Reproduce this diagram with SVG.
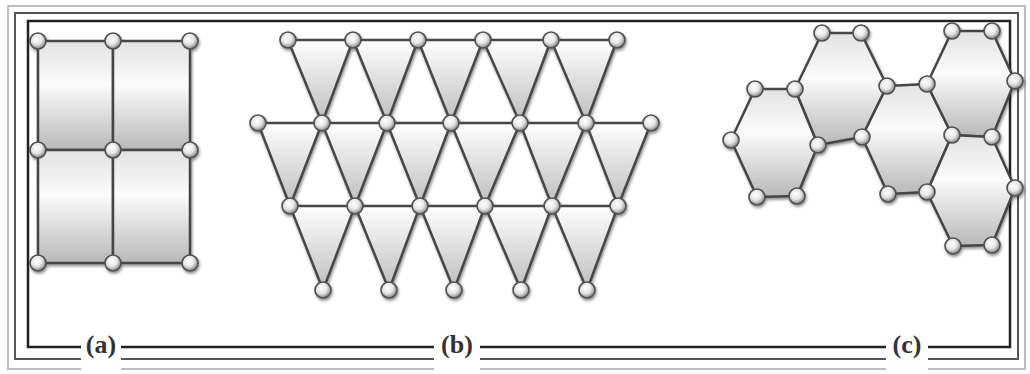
<svg xmlns="http://www.w3.org/2000/svg" width="1030" height="374" viewBox="0 0 1030 374">
<defs>
<linearGradient id="gShape" x1="0" y1="0" x2="0" y2="1">
<stop offset="0" stop-color="#e2e2e2"/>
<stop offset="0.4" stop-color="#fbfbfb"/>
<stop offset="1" stop-color="#b8b8b8"/>
</linearGradient>
<linearGradient id="gTri" x1="0" y1="0" x2="0" y2="1">
<stop offset="0" stop-color="#ffffff"/>
<stop offset="1" stop-color="#bcbcbc"/>
</linearGradient>
<radialGradient id="gNode" cx="0.42" cy="0.38" r="0.6">
<stop offset="0" stop-color="#ffffff"/>
<stop offset="0.55" stop-color="#e6e6e6"/>
<stop offset="1" stop-color="#8c8c8c"/>
</radialGradient>
<filter id="shadow" x="-10%" y="-10%" width="120%" height="120%">
<feGaussianBlur in="SourceAlpha" stdDeviation="1.6"/>
<feOffset dx="1" dy="1.5" result="b"/>
<feComponentTransfer><feFuncA type="linear" slope="0.45"/></feComponentTransfer>
<feMerge><feMergeNode/><feMergeNode in="SourceGraphic"/></feMerge>
</filter>
</defs>
<style>
.frame1{fill:none;stroke:#bdbdbd;stroke-width:2}
.frame2{fill:none;stroke:#555;stroke-width:2}
.frame3{fill:none;stroke:#222;stroke-width:2.5}
.cell{fill:url(#gShape);stroke:#444;stroke-width:2.5;stroke-linejoin:round}
.tri{fill:url(#gTri);stroke:none}
.edge{fill:none;stroke:#474747;stroke-width:2.5;stroke-linejoin:round;stroke-linecap:round}
.node{fill:url(#gNode);stroke:#505050;stroke-width:1.6}
.lbl{font-family:"Liberation Serif",serif;font-weight:bold;font-size:26px;fill:#333;text-anchor:middle}
</style>
<rect width="1030" height="374" fill="#ffffff"/>
<g id="frame">
<rect class="frame1" x="8" y="6" width="1017" height="363"/>
<rect class="frame2" x="15" y="13" width="1003" height="346"/>
<rect class="frame3" x="28" y="21" width="982" height="326"/>
<rect x="81" y="334" width="40" height="38" fill="#fff"/>
<rect x="434" y="334" width="46" height="38" fill="#fff"/>
<rect x="886" y="334" width="42" height="38" fill="#fff"/>
</g>

<g id="panel-a" filter="url(#shadow)">
<g id="a-cells">
<rect class="cell" x="38" y="41" width="75" height="109"/>
<rect class="cell" x="113" y="41" width="77" height="109"/>
<rect class="cell" x="38" y="150" width="75" height="113"/>
<rect class="cell" x="113" y="150" width="77" height="113"/>
</g>
<g id="a-nodes">
<circle class="node" cx="38" cy="41" r="8"/><circle class="node" cx="113" cy="41" r="8"/><circle class="node" cx="190" cy="41" r="8"/>
<circle class="node" cx="38" cy="150" r="8"/><circle class="node" cx="113" cy="150" r="8"/><circle class="node" cx="190" cy="150" r="8"/>
<circle class="node" cx="38" cy="263" r="8"/><circle class="node" cx="113" cy="263" r="8"/><circle class="node" cx="190" cy="263" r="8"/>
</g>
</g>

<g id="panel-b" filter="url(#shadow)">
<g id="b-faces">
<polygon class="tri" points="288,40 353,40 322,123"/>
<polygon class="tri" points="353,40 418,40 387,123"/>
<polygon class="tri" points="418,40 483,40 451,123"/>
<polygon class="tri" points="483,40 551,40 520,123"/>
<polygon class="tri" points="551,40 617,40 586,123"/>
<polygon class="tri" points="258,123 322,123 290,206"/>
<polygon class="tri" points="322,123 387,123 355,206"/>
<polygon class="tri" points="387,123 451,123 420,206"/>
<polygon class="tri" points="451,123 520,123 485,206"/>
<polygon class="tri" points="520,123 586,123 552,206"/>
<polygon class="tri" points="586,123 651,123 618,206"/>
<polygon class="tri" points="290,206 355,206 323,290"/>
<polygon class="tri" points="355,206 420,206 389,290"/>
<polygon class="tri" points="420,206 485,206 454,290"/>
<polygon class="tri" points="485,206 552,206 521,290"/>
<polygon class="tri" points="552,206 618,206 587,290"/>
</g>
<g id="b-connectors">
<polyline class="edge" points="288,40 617,40"/>
<polyline class="edge" points="258,123 651,123"/>
<polyline class="edge" points="290,206 618,206"/>
<polyline class="edge" points="288,40 322,123 353,40 387,123 418,40 451,123 483,40 520,123 551,40 586,123 617,40"/>
<polyline class="edge" points="258,123 290,206 322,123 355,206 387,123 420,206 451,123 485,206 520,123 552,206 586,123 618,206 651,123"/>
<polyline class="edge" points="290,206 323,290 355,206 389,290 420,206 454,290 485,206 521,290 552,206 587,290 618,206"/>
</g>
<g id="b-nodes">
<circle class="node" cx="288" cy="40" r="8"/><circle class="node" cx="353" cy="40" r="8"/><circle class="node" cx="418" cy="40" r="8"/><circle class="node" cx="483" cy="40" r="8"/><circle class="node" cx="551" cy="40" r="8"/><circle class="node" cx="617" cy="40" r="8"/>
<circle class="node" cx="258" cy="123" r="8"/><circle class="node" cx="322" cy="123" r="8"/><circle class="node" cx="387" cy="123" r="8"/><circle class="node" cx="451" cy="123" r="8"/><circle class="node" cx="520" cy="123" r="8"/><circle class="node" cx="586" cy="123" r="8"/><circle class="node" cx="651" cy="123" r="8"/>
<circle class="node" cx="290" cy="206" r="8"/><circle class="node" cx="355" cy="206" r="8"/><circle class="node" cx="420" cy="206" r="8"/><circle class="node" cx="485" cy="206" r="8"/><circle class="node" cx="552" cy="206" r="8"/><circle class="node" cx="618" cy="206" r="8"/>
<circle class="node" cx="323" cy="290" r="8"/><circle class="node" cx="389" cy="290" r="8"/><circle class="node" cx="454" cy="290" r="8"/><circle class="node" cx="521" cy="290" r="8"/><circle class="node" cx="587" cy="290" r="8"/>
</g>
</g>

<g id="panel-c" filter="url(#shadow)">
<g id="c-hexes">
<polygon class="cell" points="755,89 795,89 818,145 797,196 757,197 731,140"/>
<polygon class="cell" points="822,33 861,33 887,86 862,137 818,145 795,89"/>
<polygon class="cell" points="887,86 927,84 952,135 927,192 888,194 862,137"/>
<polygon class="cell" points="952,31 992,31 1015,81 992,137 952,135 927,84"/>
<polygon class="cell" points="952,135 992,137 1015,188 992,245 953,246 927,192"/>
</g>
<g id="c-nodes">
<circle class="node" cx="822" cy="33" r="8"/><circle class="node" cx="861" cy="33" r="8"/><circle class="node" cx="952" cy="31" r="8"/><circle class="node" cx="992" cy="31" r="8"/>
<circle class="node" cx="755" cy="89" r="8"/><circle class="node" cx="795" cy="89" r="8"/><circle class="node" cx="887" cy="86" r="8"/><circle class="node" cx="927" cy="84" r="8"/><circle class="node" cx="1015" cy="81" r="8"/>
<circle class="node" cx="731" cy="140" r="8"/><circle class="node" cx="818" cy="145" r="8"/><circle class="node" cx="862" cy="137" r="8"/><circle class="node" cx="952" cy="135" r="8"/><circle class="node" cx="992" cy="137" r="8"/>
<circle class="node" cx="757" cy="197" r="8"/><circle class="node" cx="797" cy="196" r="8"/><circle class="node" cx="888" cy="194" r="8"/><circle class="node" cx="927" cy="192" r="8"/><circle class="node" cx="1015" cy="188" r="8"/>
<circle class="node" cx="953" cy="246" r="8"/><circle class="node" cx="992" cy="245" r="8"/>
</g>
</g>

<g id="labels">
<text class="lbl" x="101" y="353">(a)</text>
<text class="lbl" x="457" y="353">(b)</text>
<text class="lbl" x="907" y="353">(c)</text>
</g>
</svg>
